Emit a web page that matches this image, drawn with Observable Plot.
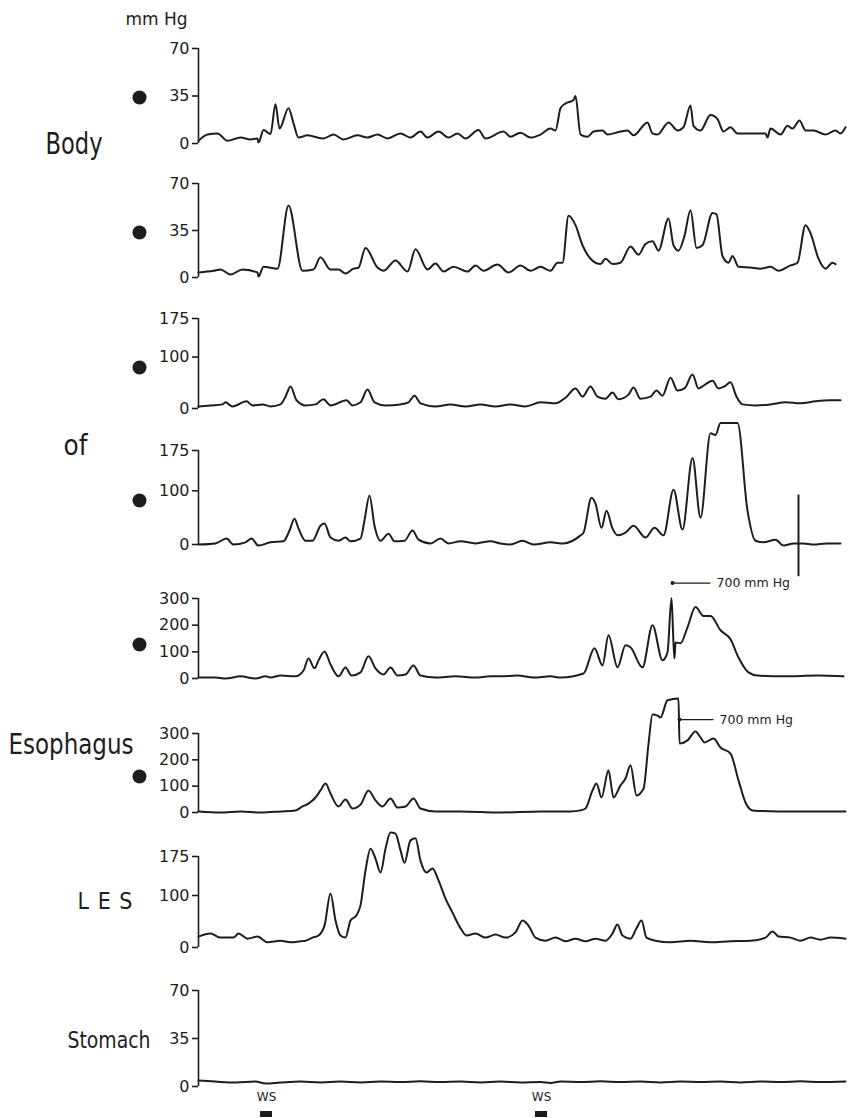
<!DOCTYPE html>
<html><head><meta charset="utf-8">
<script src="https://cdn.jsdelivr.net/npm/d3@7"></script>
<script src="https://cdn.jsdelivr.net/npm/@observablehq/plot@0.6"></script>
<style>
html,body{margin:0;padding:0;background:#fff;}
#chart{position:relative;width:852px;height:1118px;overflow:hidden;background:#fff;}
#chart svg{position:absolute;left:0;}
#chart svg g[aria-label="y-axis"] line, #chart svg g[aria-label="y-axis tick"] path{stroke-width:1.6;}
</style></head><body><div id="chart"></div>
<script>
// time in chart units (0..650), pressure in mm Hg
const body1 = [[0,2],[9,6.6],[19,7.4],[29,2],[42,4.4],[52,3],[59,3.7],[60,0.7],[65,10],[72,7],[77,29],[81,11],[90,26],[95,15],[100,4.4],[109,6],[125,3.7],[135,6.6],[145,3],[159,6],[169,4.4],[179,6.6],[189,3.7],[202,7.4],[212,4.4],[222,8.8],[229,4.4],[240,8.8],[250,4.4],[259,7.4],[267,3.7],[280,10],[287,3.7],[305,8.8],[312,5],[322,8],[332,4.4],[342,6.6],[352,11],[357,9.6],[362,26],[367,29.5],[375,32],[377,35],[382,6.6],[389,5],[395,8.8],[404,9.6],[409,6.6],[422,8.8],[429,9.6],[435,6],[449,15.5],[454,7.4],[459,6.6],[470,15.5],[479,9.6],[485,12],[492,28],[495,13],[502,9.6],[512,21],[519,18],[525,8.8],[532,12],[539,7.4],[555,7.4],[567,7.4],[569,4.4],[572,11],[582,6.6],[589,13],[594,11],[601,17],[607,9.6],[615,9.6],[627,6.6],[637,9.6],[642,7.4],[647,12]];
const body2 = [[0,3.7],[15,5],[22,6],[32,2.2],[44,6],[59,3.7],[60,0.7],[65,8],[79,6.6],[90,53.6],[104,5],[115,6],[122,15],[132,6],[140,6],[147,3],[155,6.6],[160,7.4],[167,22],[179,7.4],[185,5],[197,12.7],[209,4.4],[217,21],[229,6],[237,10.4],[245,4.4],[255,8],[269,4.4],[277,9],[285,5],[299,9.7],[310,3.7],[322,9],[332,5],[342,8],[352,5],[359,11],[364,11],[370,46],[377,39],[384,24],[392,14],[402,10],[407,14],[414,10],[422,11],[432,23],[440,17],[447,25],[454,27],[460,20],[470,44],[475,24],[480,20],[486,31],[492,50],[498,22],[504,24],[514,48],[518,47],[524,16],[530,11],[534,16],[540,8],[552,7.4],[562,6.6],[572,8],[580,5],[592,9],[599,11],[607,39],[612,33],[620,14],[627,6.6],[634,11],[637,10]];
const mid1 = [[0,4],[12,6],[24,8],[27,12],[34,4],[48,14],[54,6],[64,8],[72,4],[82,8],[87,23],[92,43],[98,16],[107,6],[117,8],[125,18],[132,6],[148,16],[154,6],[162,12],[169,37],[176,12],[187,6],[202,8],[210,12],[216,25],[222,10],[237,4],[252,8],[267,4],[282,8],[297,4],[312,8],[327,4],[342,12],[357,10],[367,21],[377,39],[384,23],[392,43],[399,23],[407,19],[414,31],[420,18],[430,27],[435,41],[442,19],[452,23],[458,35],[464,25],[472,60],[479,35],[486,39],[494,66],[500,39],[507,47],[514,54],[520,39],[526,43],[532,51],[538,23],[544,8],[557,6],[572,8],[587,12],[602,10],[617,14],[632,16],[642,16]];
const mid2 = [[0,0],[17,2],[28,11],[35,0],[47,4],[53,11],[60,-2],[72,4],[85,6],[91,26],[96,48],[100,30],[107,7],[114,7],[122,35],[126,39],[132,13],[140,7],[147,13],[152,6],[162,11],[166,45],[171,91],[176,35],[182,7],[190,20],[196,6],[206,7],[214,26],[220,9],[232,2],[242,11],[250,2],[262,6],[277,2],[292,6],[302,2],[312,0],[324,7],[335,0],[352,4],[365,2],[382,17],[385,22],[393,87],[397,76],[403,31],[408,63],[414,30],[419,17],[427,22],[435,35],[447,13],[456,31],[465,17],[475,102],[484,28],[494,161],[502,50],[512,207],[517,204],[522,226],[539,226],[549,63],[557,7],[565,4],[577,9],[585,-2],[595,2],[605,2],[615,0],[628,2],[642,2]];
const mid2Artifact = [{t:600, low:-60, high:92}];
const low1 = [[0,4],[17,4],[27,0],[42,8],[57,0],[67,8],[72,4],[82,11],[97,8],[105,30],[110,75],[116,38],[120,68],[126,101],[132,53],[140,8],[147,41],[153,11],[162,23],[170,83],[177,38],[185,15],[192,41],[199,11],[207,15],[215,49],[222,11],[237,4],[257,8],[277,4],[292,8],[302,8],[319,11],[335,4],[352,8],[362,4],[385,19],[396,113],[404,49],[410,162],[419,42],[427,125],[432,117],[444,42],[454,200],[464,68],[469,98],[473,302],[475,132],[476,75],[477,135],[482,132],[489,192],[497,268],[505,234],[512,234],[522,181],[532,147],[540,79],[550,23],[559,11],[585,8],[619,11],[645,8]];
const low2 = [[0,4],[22,0],[42,4],[62,0],[82,4],[97,8],[104,23],[110,34],[117,57],[122,84],[127,110],[132,72],[140,23],[147,49],[154,15],[162,30],[170,84],[177,46],[184,23],[192,53],[199,19],[207,23],[215,53],[222,15],[237,4],[262,4],[302,0],[342,4],[372,4],[382,8],[387,15],[394,84],[398,110],[403,57],[410,160],[415,57],[422,103],[427,129],[432,179],[438,65],[445,90],[450,260],[454,372],[459,368],[462,361],[469,426],[480,433],[481,262],[489,274],[497,308],[502,285],[506,266],[515,281],[522,247],[532,224],[540,122],[547,38],[554,8],[580,4],[620,4],[647,4]];
const les = [[0,21],[12,27],[22,19],[35,19],[40,27],[49,17],[59,21],[69,10],[82,13],[92,10],[102,12],[107,13],[114,19],[120,23],[126,42],[132,104],[137,52],[142,23],[147,19],[152,52],[158,62],[162,81],[167,148],[172,190],[177,171],[182,144],[187,190],[192,221],[197,219],[202,187],[206,163],[212,206],[217,210],[222,167],[228,144],[234,152],[240,129],[247,94],[254,67],[262,37],[268,23],[277,27],[287,19],[297,25],[307,19],[317,29],[324,52],[330,42],[337,19],[347,13],[357,19],[367,12],[377,17],[387,12],[397,17],[407,13],[414,27],[419,44],[424,23],[432,17],[438,37],[443,52],[448,19],[457,13],[472,10],[492,13],[512,10],[532,12],[552,13],[567,19],[574,31],[580,21],[592,19],[602,13],[612,19],[622,15],[632,19],[647,17]];
const stomach = [[0,4.4],[17,3.6],[37,2.9],[57,3.6],[67,2.2],[82,2.9],[102,3.6],[122,2.9],[142,3.6],[162,2.9],[182,3.6],[202,3.2],[222,3.9],[242,3.2],[262,3.6],[282,2.9],[302,3.6],[322,2.9],[342,3.2],[352,2.5],[362,3.6],[382,3.2],[402,3.9],[422,3.2],[442,3.6],[462,2.9],[482,3.6],[502,3.2],[522,3.6],[542,2.9],[562,3.6],[582,3.2],[602,3.9],[622,3.2],[647,3.6]];
const wetSwallows = [68, 343];
const offScale5 = [{t:474, t2:512, v:358, label:"700 mm Hg"}];
const offScale6 = [{t:481, t2:515, v:353, label:"700 mm Hg"}];

const INK = "#1d1d1d";
const TICKFONT = "'DejaVu Sans','Liberation Sans',sans-serif";
const LABELFONT = "'Liberation Sans Narrow','DejaVu Sans Condensed','Roboto Condensed','Liberation Sans',sans-serif";
const LABEL_WIDTHS = {"Body": 57, "of": 24, "Esophagus": 125, "LES": 55, "Stomach": 83};
const chart = document.getElementById("chart");

function label(text, dx, dy, size) {
  return Plot.text([text], {text: d => d, frameAnchor: "top-left", dx, dy, textAnchor: "start", lineAnchor: "bottom",
    fontSize: size, fontFamily: LABELFONT, fill: INK});
}
function dotMark(dy) {
  return Plot.dot([0], {frameAnchor: "top-left", dx: -59, dy, r: 7, fill: INK, stroke: "none"});
}
function offScale(arr) {
  return [
    Plot.link(arr, {x1: d => d.t, x2: d => d.t2, y1: d => d.v, y2: d => d.v, stroke: INK, strokeWidth: 1.2}),
    Plot.dot(arr, {x: d => d.t, y: d => d.v, r: 2, fill: INK}),
    Plot.text(arr, {x: d => d.t2, y: d => d.v, text: d => d.label, dx: 6, textAnchor: "start", fontSize: 12.5, fontFamily: TICKFONT, fill: INK})
  ];
}

function panel({data, max, ticks, top, bottom, marks = []}) {
  const mt = 10, mb = 10;
  const svg = Plot.plot({
    width: 852, height: (bottom - top) + mt + mb,
    marginLeft: 198, marginRight: 4, marginTop: mt, marginBottom: mb,
    style: {background: "transparent", overflow: "visible", fontFamily: TICKFONT, fontSize: "16px", color: INK},
    x: {domain: [0, 650], axis: null},
    y: {domain: [0, max], ticks, tickSize: 6, tickPadding: 3, label: null, tickFormat: d => String(d)},
    marks: [
      Plot.ruleX([0], {y1: () => 0, y2: () => max, stroke: INK, strokeWidth: 1.6}),
      Plot.line(data, {x: d => d[0], y: d => d[1], stroke: INK, strokeWidth: 2, curve: "monotone-x"}),
      ...marks
    ]
  });
  svg.style.top = (top - mt) + "px";
  svg.style.background = "transparent";
  svg.style.overflow = "visible";
  svg.querySelectorAll("text").forEach(t => {
    const key = t.textContent.trim();
    const w = LABEL_WIDTHS[key];
    if (w) {
      t.setAttribute("textLength", w);
      t.setAttribute("lengthAdjust", key === "LES" ? "spacing" : "spacingAndGlyphs");
    }
  });
  chart.append(svg);
}

// frameAnchor top-left = (axis, panel top); dx/dy offsets from there
panel({data: body1, max: 70, ticks: [0, 35, 70], top: 48, bottom: 143, marks: [
  Plot.text(["mm Hg"], {text: d => d, frameAnchor: "top-left", dx: -11, dy: -24, textAnchor: "end", lineAnchor: "bottom", fontSize: 17, fontFamily: TICKFONT, fill: INK}),
  label("Body", -153, 105, 31),
  dotMark(49)
]});
panel({data: body2, max: 70, ticks: [0, 35, 70], top: 183, bottom: 277, marks: [dotMark(49)]});
panel({data: mid1, max: 175, ticks: [0, 100, 175], top: 318, bottom: 408, marks: [dotMark(49)]});
panel({data: mid2, max: 175, ticks: [0, 100, 175], top: 450, bottom: 544, marks: [
  Plot.ruleX(mid2Artifact, {x: d => d.t, y1: d => d.low, y2: d => d.high, stroke: INK, strokeWidth: 2}),
  label("of", -135, 4, 29),
  dotMark(50)
]});
panel({data: low1, max: 300, ticks: [0, 100, 200, 300], top: 598, bottom: 678, marks: [
  ...offScale(offScale5),
  dotMark(46)
]});
panel({data: low2, max: 300, ticks: [0, 100, 200, 300], top: 733, bottom: 812, marks: [
  ...offScale(offScale6),
  label("Esophagus", -190, 20, 29),
  dotMark(43)
]});
panel({data: les, max: 175, ticks: [0, 100, 175], top: 856, bottom: 947, marks: [
  label("LES", -121, 52, 23)
]});
panel({data: stomach, max: 70, ticks: [0, 35, 70], top: 990, bottom: 1086, marks: [
  label("Stomach", -131, 57, 23),
  Plot.text(wetSwallows, {x: d => d, frameAnchor: "bottom", text: () => "WS", dy: 14, fontSize: 12, fontFamily: TICKFONT, fill: INK}),
  Plot.rect(wetSwallows, {x1: d => d - 6, x2: d => d + 6, y1: () => 0, y2: () => 0, insetTop: -3, insetBottom: -3, dy: 28, fill: INK})
]});
</script></body></html>
